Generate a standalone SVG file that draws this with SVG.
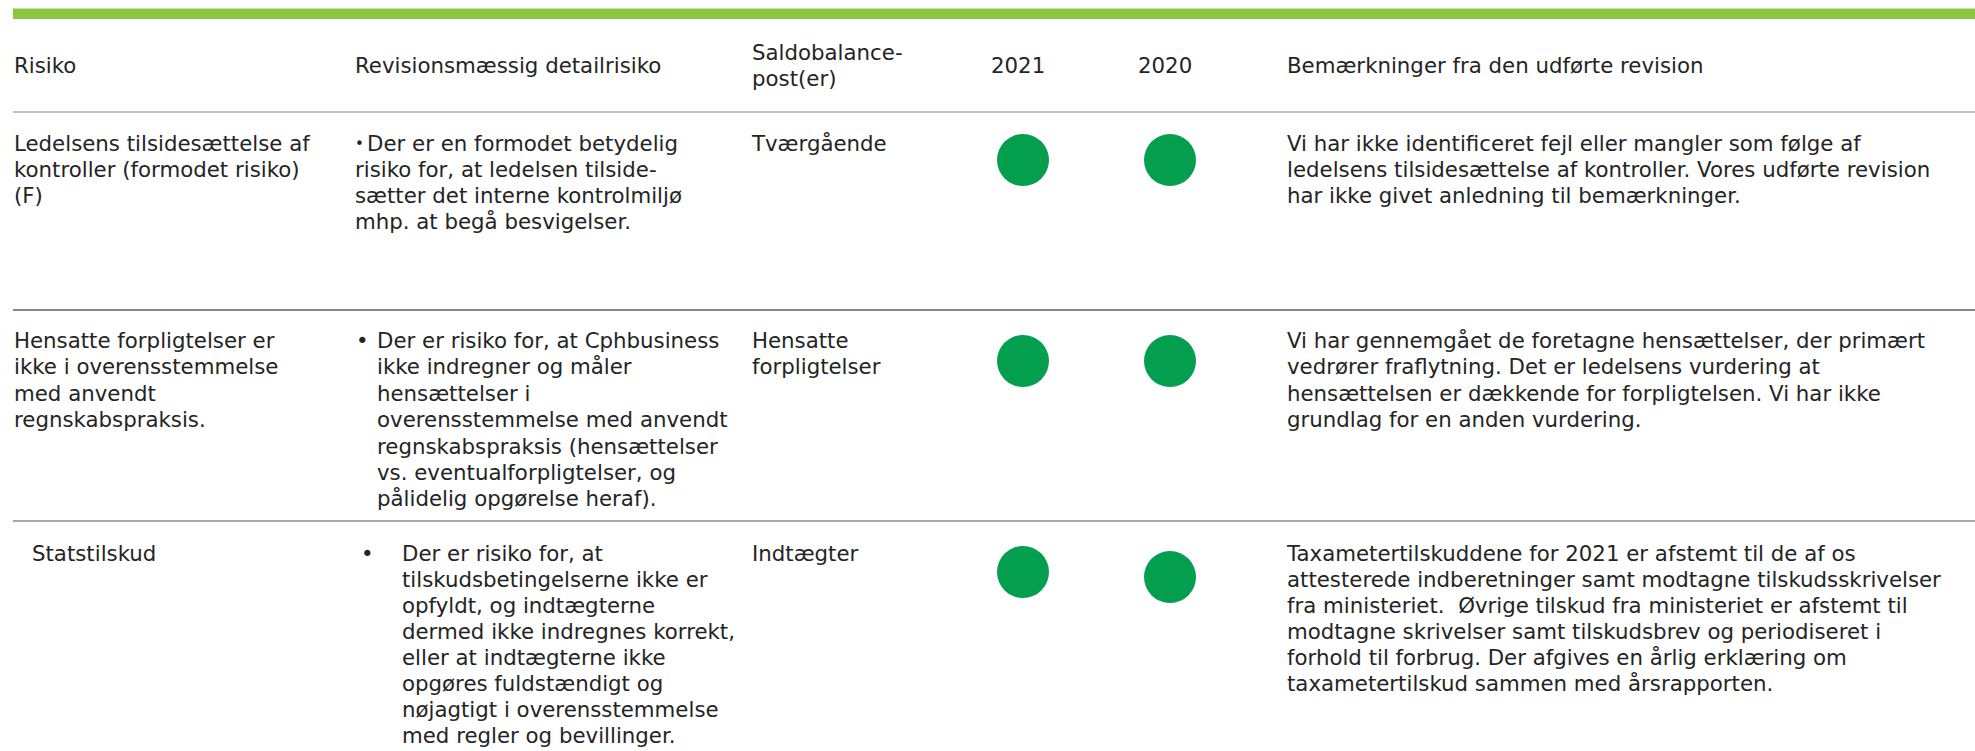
<svg xmlns="http://www.w3.org/2000/svg" width="1975" height="751" viewBox="0 0 1975 751">
<style>
text{font-family:"DejaVu Sans","Liberation Sans",sans-serif;font-size:21.3px;fill:#242424;white-space:pre}
.sb{font-size:15px}
.dot{fill:#039f4f}
</style>
<rect width="1975" height="751" fill="#fff"/>
<g id="topbar">
<rect x="13" y="8.5" width="1962" height="10.5" fill="#8cc63f"/>
</g>
<g id="rules">
<line x1="13" y1="112" x2="1975" y2="112" stroke="#c0c0c0" stroke-width="2"/>
<line x1="13" y1="310" x2="1975" y2="310" stroke="#606060" stroke-width="1.5"/>
<line x1="13" y1="521" x2="1975" y2="521" stroke="#a8a8a8" stroke-width="2"/>
</g>
<g id="header">
<text x="14" y="73">Risiko</text>
<text x="355" y="73">Revisionsmæssig detailrisiko</text>
<text x="752" y="60">Saldobalance-</text>
<text x="752" y="86">post(er)</text>
<text x="991" y="73">2021</text>
<text x="1138" y="73">2020</text>
<text x="1287" y="73">Bemærkninger fra den udførte revision</text>
</g>
<g id="row1">
<text x="14" y="151">Ledelsens tilsidesættelse af</text>
<text x="14" y="177">kontroller (formodet risiko)</text>
<text x="14" y="203">(F)</text>
<text class="sb" x="355" y="149">•</text>
<text x="367" y="151">Der er en formodet betydelig</text>
<text x="355" y="177">risiko for, at ledelsen tilside-</text>
<text x="355" y="203">sætter det interne kontrolmiljø</text>
<text x="355" y="229">mhp. at begå besvigelser.</text>
<text x="752" y="151">Tværgående</text>
<circle class="dot" cx="1023" cy="160" r="26"/>
<circle class="dot" cx="1170" cy="160" r="26"/>
<text x="1287" y="151">Vi har ikke identificeret fejl eller mangler som følge af</text>
<text x="1287" y="177">ledelsens tilsidesættelse af kontroller. Vores udførte revision</text>
<text x="1287" y="203">har ikke givet anledning til bemærkninger.</text>
</g>
<g id="row2">
<text x="14" y="348">Hensatte forpligtelser er</text>
<text x="14" y="374.4">ikke i overensstemmelse</text>
<text x="14" y="400.8">med anvendt</text>
<text x="14" y="427.2">regnskabspraksis.</text>
<text x="356" y="348">•</text>
<text x="377" y="348">Der er risiko for, at Cphbusiness</text>
<text x="377" y="374.4">ikke indregner og måler</text>
<text x="377" y="400.8">hensættelser i</text>
<text x="377" y="427.2">overensstemmelse med anvendt</text>
<text x="377" y="453.6">regnskabspraksis (hensættelser</text>
<text x="377" y="480">vs. eventualforpligtelser, og</text>
<text x="377" y="506.4">pålidelig opgørelse heraf).</text>
<text x="752" y="348">Hensatte</text>
<text x="752" y="374.4">forpligtelser</text>
<circle class="dot" cx="1023" cy="361" r="26"/>
<circle class="dot" cx="1170" cy="361" r="26"/>
<text x="1287" y="348">Vi har gennemgået de foretagne hensættelser, der primært</text>
<text x="1287" y="374.4">vedrører fraflytning. Det er ledelsens vurdering at</text>
<text x="1287" y="400.8">hensættelsen er dækkende for forpligtelsen. Vi har ikke</text>
<text x="1287" y="427.2">grundlag for en anden vurdering.</text>
</g>
<g id="row3">
<text x="32" y="561">Statstilskud</text>
<text x="361" y="561">•</text>
<text x="402" y="561">Der er risiko for, at</text>
<text x="402" y="587">tilskudsbetingelserne ikke er</text>
<text x="402" y="613">opfyldt, og indtægterne</text>
<text x="402" y="639">dermed ikke indregnes korrekt,</text>
<text x="402" y="665">eller at indtægterne ikke</text>
<text x="402" y="691">opgøres fuldstændigt og</text>
<text x="402" y="717">nøjagtigt i overensstemmelse</text>
<text x="402" y="743">med regler og bevillinger.</text>
<text x="752" y="561">Indtægter</text>
<circle class="dot" cx="1023" cy="572" r="26"/>
<circle class="dot" cx="1170" cy="577" r="26"/>
<text x="1287" y="561">Taxametertilskuddene for 2021 er afstemt til de af os</text>
<text x="1287" y="587">attesterede indberetninger samt modtagne tilskudsskrivelser</text>
<text x="1287" y="613">fra ministeriet.  Øvrige tilskud fra ministeriet er afstemt til</text>
<text x="1287" y="639">modtagne skrivelser samt tilskudsbrev og periodiseret i</text>
<text x="1287" y="665">forhold til forbrug. Der afgives en årlig erklæring om</text>
<text x="1287" y="691">taxametertilskud sammen med årsrapporten.</text>
</g>
</svg>
